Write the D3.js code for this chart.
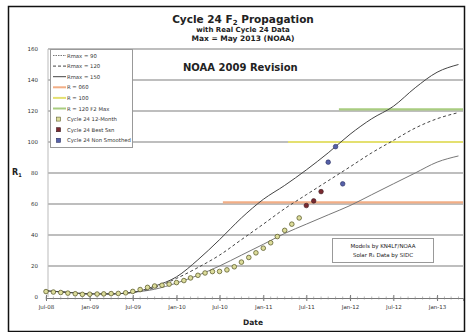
<!DOCTYPE html>
<html>
<head>
<meta charset="utf-8">
<script src="https://cdn.jsdelivr.net/npm/d3@7"></script>
<style>
  body { margin: 0; background: #fff; }
  svg { display: block; font-family: "DejaVu Sans", Verdana, sans-serif; }
</style>
</head>
<body>
<svg id="chart" width="466" height="332"></svg>
<script>
// model curve dates (quarterly)
const modelDates = ["2008-07","2008-10","2009-01","2009-04","2009-07","2009-10","2010-01","2010-04",
  "2010-07","2010-10","2011-01","2011-04","2011-07","2011-10","2012-01","2012-04","2012-07",
  "2012-10","2013-01","2013-04"];
const rmax90  = [4,3,2,2,3,5,9,14,20,27,34,41,47,53,59,66,73,80,87,91];
const rmax120 = [4,3,2,2,3,6,12,19,27,37,47,57,66,75,84,93,101,109,115,119];
const rmax150 = [4,3,2,2,3,7,13,24,37,51,63,72,82,93,105,115,123,135,145,150];

// reference levels and where they start
const levelValues = [61, 100, 121];
const levelStarts = ["2010-07-15","2011-04-15","2011-11-15"];
const levelColors = ["#f2ae86","#e4e070","#a9cc80"];

// observed data
const smoothDates = d3.range(36).map(i => d3.timeMonth.offset(new Date(2008, 6, 1), i));
const smoothSsn = [3.5,3.2,2.9,2.5,2.1,1.7,1.8,1.9,2.0,2.2,2.3,2.7,3.6,4.8,6.2,7.1,7.6,8.3,
  9.3,10.6,12.3,14.0,15.5,16.4,16.5,17.5,19.5,22.5,25.5,28.5,31.5,35,39,43,47,51];
const bestDates = ["2011-07","2011-08","2011-09"];
const bestSsn = [59,62,68];
const rawDates = ["2011-10","2011-11","2011-12"];
const rawSsn = [87,97,73];

const yTicks = [0,20,40,60,80,100,120,140,160];
const legendLabels = ["Rmax = 90","Rmax = 120","Rmax = 150","R = 060","R = 100",
  "R = 120 F2 Max","Cycle 24 12-Month","Cycle 24 Best Ssn","Cycle 24 Non Smoothed"];

const parseM = d3.timeParse("%Y-%m");
const parseD = d3.timeParse("%Y-%m-%d");
const svg = d3.select("#chart");

const x = d3.scaleTime()
  .domain([new Date(2008, 6, 1), new Date(2013, 3, 20)])
  .range([46, 463]);
const y = d3.scaleLinear().domain([0, 160]).range([297, 49]);

// frame
svg.append("rect").attr("x", 8.5).attr("y", 6.5).attr("width", 456).attr("height", 325)
  .attr("fill", "none").attr("stroke", "#111").attr("stroke-width", 1.5);

// titles
svg.append("text").attr("x", 243).attr("y", 23).attr("text-anchor", "middle")
  .attr("font-size", 10.5).attr("font-weight", "bold").attr("fill", "#222")
  .html('Cycle 24 F<tspan font-size="7" dy="2">2</tspan><tspan dy="-2"> Propagation</tspan>');
svg.append("text").attr("x", 243).attr("y", 32).attr("text-anchor", "middle")
  .attr("font-size", 7).attr("font-weight", "bold").attr("fill", "#222").text("with Real Cycle 24 Data");
svg.append("text").attr("x", 243).attr("y", 41).attr("text-anchor", "middle")
  .attr("font-size", 7.5).attr("font-weight", "bold").attr("fill", "#222").text("Max = May 2013 (NOAA)");

// grid
svg.append("g").selectAll("line").data(yTicks.slice(1)).join("line")
  .attr("x1", 48).attr("x2", 463)
  .attr("y1", d => y(d)).attr("y2", d => y(d))
  .attr("stroke", "#a8a8a8").attr("stroke-width", 1.3);
svg.append("line").attr("x1", 48).attr("x2", 48).attr("y1", y(160)).attr("y2", y(0))
  .attr("stroke", "#bbb");

// y labels
svg.append("g").selectAll("text").data(yTicks).join("text")
  .attr("x", 38).attr("y", d => y(d) + 2).attr("text-anchor", "end")
  .attr("font-size", 5.5).attr("fill", "#333").text(d => d);
svg.append("text").attr("x", 12).attr("y", 175).attr("font-size", 8).attr("font-weight", "bold")
  .attr("fill", "#222").html('R<tspan font-size="5" dy="2">1</tspan>');

// x axis
const xAxis = d3.axisBottom(x)
  .ticks(d3.timeMonth.every(6))
  .tickFormat(d3.timeFormat("%b-%y"))
  .tickSize(3);
const gx = svg.append("g").attr("transform", "translate(0," + 298 + ")").call(xAxis);
gx.select(".domain").attr("stroke", "#777");
gx.selectAll(".tick line").attr("stroke", "#777").attr("y1", -3);
gx.selectAll(".tick text").attr("font-size", 5.5).attr("fill", "#333").attr("dy", "0.9em")
  .attr("font-family", "DejaVu Sans, sans-serif");
svg.append("g").selectAll("line").data(x.ticks(d3.timeMonth.every(1))).join("line")
  .attr("x1", d => x(d)).attr("x2", d => x(d)).attr("y1", 296.5).attr("y2", 299.5)
  .attr("stroke", "#888").attr("stroke-width", 0.6);
svg.append("text").attr("x", 253).attr("y", 325).attr("text-anchor", "middle")
  .attr("font-size", 7.5).attr("font-weight", "bold").attr("fill", "#222").text("Date");

// reference levels
svg.append("g").selectAll("line").data(levelValues).join("line")
  .attr("x1", (d, i) => x(parseD(levelStarts[i]))).attr("x2", 463)
  .attr("y1", d => y(d)).attr("y2", d => y(d))
  .attr("stroke", (d, i) => levelColors[i]).attr("stroke-width", 2.2);

// model curves
const mDates = modelDates.map(parseM);
const line = d3.line().x((d, i) => x(mDates[i])).y(d => y(d)).curve(d3.curveMonotoneX);
const curveStyles = [
  {data: rmax90, color: "#777", dash: null, w: 1},
  {data: rmax120, color: "#444", dash: "3,2.5", w: 1},
  {data: rmax150, color: "#444", dash: null, w: 1}
];
curveStyles.forEach(c => {
  svg.append("path").attr("d", line(c.data)).attr("fill", "none")
    .attr("stroke", c.color).attr("stroke-width", c.w).attr("stroke-dasharray", c.dash);
});

// observed points
svg.append("g").selectAll("circle").data(smoothSsn).join("circle")
  .attr("cx", (d, i) => x(smoothDates[i])).attr("cy", d => y(d)).attr("r", 2.3)
  .attr("fill", "#dcdc9a").attr("stroke", "#5f6030").attr("stroke-width", 0.8);
svg.append("g").selectAll("circle").data(bestSsn).join("circle")
  .attr("cx", (d, i) => x(parseM(bestDates[i]))).attr("cy", d => y(d)).attr("r", 2.3)
  .attr("fill", "#7a2a30").attr("stroke", "#3a1a20").attr("stroke-width", 0.6);
svg.append("g").selectAll("circle").data(rawSsn).join("circle")
  .attr("cx", (d, i) => x(parseM(rawDates[i]))).attr("cy", d => y(d)).attr("r", 2.3)
  .attr("fill", "#5560a8").attr("stroke", "#2a2f60").attr("stroke-width", 0.6);

// NOAA label
svg.append("text").attr("x", 183).attr("y", 71).attr("font-size", 10).attr("font-weight", "bold")
  .attr("fill", "#222").text("NOAA 2009 Revision");

// credit box
svg.append("rect").attr("x", 332.5).attr("y", 238.5).attr("width", 101).attr("height", 24)
  .attr("fill", "#fff").attr("stroke", "#999");
svg.append("text").attr("x", 383).attr("y", 248).attr("text-anchor", "middle")
  .attr("font-size", 5.5).attr("fill", "#222").text("Models by KN4LF/NOAA");
svg.append("text").attr("x", 383).attr("y", 257).attr("text-anchor", "middle")
  .attr("font-size", 5.5).attr("fill", "#222").text("Solar R\u2081 Data by SIDC");

// legend
const lg = svg.append("g");
lg.append("rect").attr("x", 50.5).attr("y", 49.5).attr("width", 82).attr("height", 98)
  .attr("fill", "#fff").attr("stroke", "#999");
const legendSwatches = [
  {t: "line", color: "#777", dash: "1.5,1"},
  {t: "line", color: "#444", dash: "3,2"},
  {t: "line", color: "#444", dash: null},
  {t: "line", color: levelColors[0]},
  {t: "line", color: levelColors[1]},
  {t: "line", color: levelColors[2]},
  {t: "dot", fill: "#dcdc9a", stroke: "#5f6030"},
  {t: "dot", fill: "#7a2a30", stroke: "#3a1a20"},
  {t: "dot", fill: "#5560a8", stroke: "#2a2f60"}
];
legendLabels.forEach((lab, i) => {
  const yy = 55.5 + i * 10.6;
  const s = legendSwatches[i];
  if (s.t === "line") {
    lg.append("line").attr("x1", 53).attr("x2", 66).attr("y1", yy).attr("y2", yy)
      .attr("stroke", s.color).attr("stroke-width", i < 3 ? 1 : 2).attr("stroke-dasharray", s.dash);
  } else {
    lg.append("rect").attr("x", 56.5).attr("y", yy - 2).attr("width", 4).attr("height", 4)
      .attr("fill", s.fill).attr("stroke", s.stroke).attr("stroke-width", 0.6);
  }
  lg.append("text").attr("x", 67).attr("y", yy + 2).attr("font-size", 5.3)
    .attr("fill", "#333").text(lab);
});
</script>
</body>
</html>
